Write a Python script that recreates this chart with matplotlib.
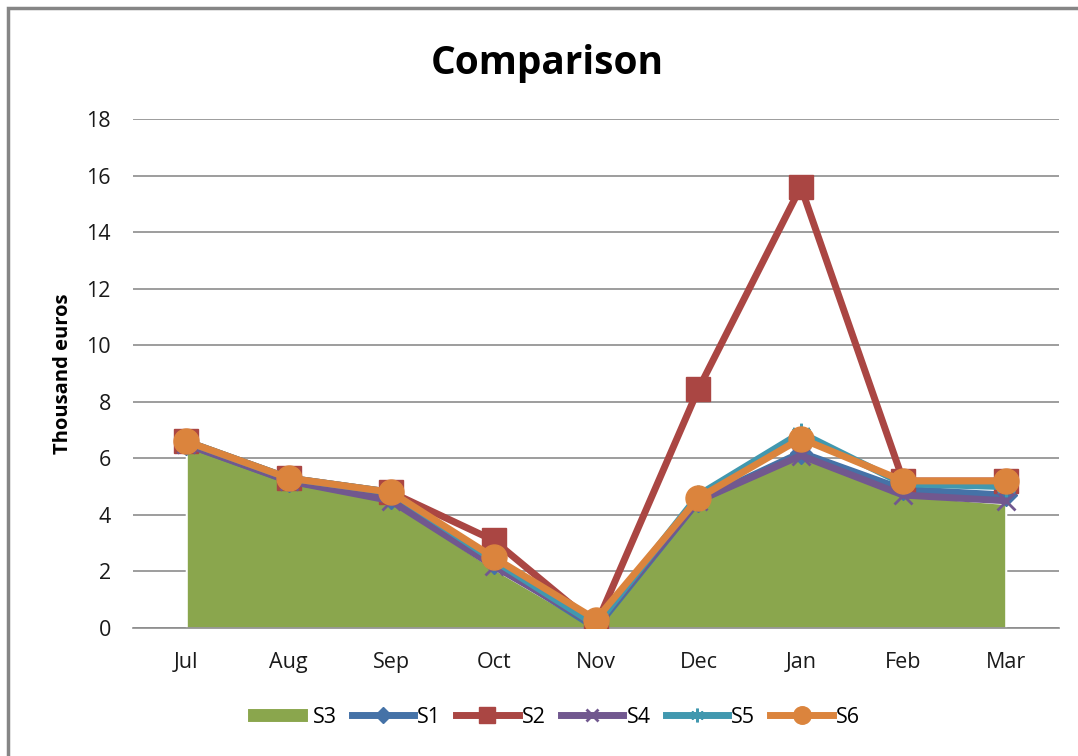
import matplotlib.pyplot as plt
from matplotlib.patches import Rectangle

plt.rcParams['font.family'] = ['Open Sans', 'DejaVu Sans']

months = ['Jul', 'Aug', 'Sep', 'Oct', 'Nov', 'Dec', 'Jan', 'Feb', 'Mar']
s3 = [6.5, 5.2, 4.5, 2.1, 0.0, 4.5, 6.1, 4.7, 4.4]
s1 = [6.5, 5.2, 4.6, 2.3, 0.0, 4.5, 6.2, 4.9, 4.7]
s2 = [6.6, 5.3, 4.8, 3.1, 0.1, 8.45, 15.6, 5.2, 5.2]
s4 = [6.5, 5.2, 4.5, 2.2, 0.1, 4.5, 6.1, 4.7, 4.5]
s5 = [6.6, 5.3, 4.8, 2.4, 0.1, 4.7, 6.9, 5.1, 5.0]
s6 = [6.6, 5.3, 4.8, 2.5, 0.3, 4.6, 6.7, 5.2, 5.2]

fig = plt.figure(figsize=(10.78, 7.56), dpi=100)
# frame round the chart
fig.patches.append(Rectangle((8 / 1078, -0.1), 1.2, 0.1 + (756 - 8) / 756,
                             transform=fig.transFigure, fill=False,
                             edgecolor='#868686', linewidth=2.5))

ax = fig.add_axes([133 / 1078, 1 - 628 / 756, (1059 - 133) / 1078, (628 - 119) / 756])
x = list(range(len(months)))

ax.fill_between(x, s3, 0, color='#8AA64D', edgecolor='white', linewidth=1.5,
                label='S3', zorder=2)
ax.plot(x, s1, color='#4572A7', lw=5, marker='D', ms=11, label='S1', zorder=3)
ax.plot(x, s2, color='#AA4643', lw=5, marker='s', ms=17, label='S2', zorder=3)
ax.plot(x, s4, color='#71588F', lw=5, marker='x', ms=13, mew=2, label='S4', zorder=3)
ax.plot(x, s5, color='#4198AF', lw=5, marker=(6, 2, 0), ms=14, mew=2, label='S5', zorder=3)
ax.plot(x, s6, color='#DB843D', lw=5, marker='o', ms=18, label='S6', zorder=4)

ax.set_xlim(-0.52, 8.52)
ax.set_ylim(0, 18)
ax.set_yticks(range(0, 19, 2))
ax.set_xticks(x)
ax.set_xticklabels(months)
ax.yaxis.grid(True, color='#8C8C8C', linewidth=1.2)
ax.set_axisbelow(True)
for side in ['top', 'right', 'left']:
    ax.spines[side].set_visible(False)
ax.spines['bottom'].set_color('#8C8C8C')
ax.spines['bottom'].set_linewidth(1.2)
ax.tick_params(axis='both', length=0, labelsize=15.5, colors='#1A1A1A')
ax.tick_params(axis='y', pad=16)
ax.tick_params(axis='x', pad=17)

ax.set_ylabel('Thousand euros', fontsize=14.5, fontweight='bold')
ax.yaxis.set_label_coords(-0.065, 0.5)
fig.text(0.508, 0.916, 'Comparison', ha='center', va='center',
         fontsize=28, fontweight='bold')

leg = ax.legend(loc='center', bbox_to_anchor=(0.454, -0.175), ncol=6, frameon=False,
                fontsize=15.5, handlelength=2.9, handletextpad=0.15, columnspacing=0.7,
                markerscale=0.7)

fig.savefig('out.png', dpi=100)
